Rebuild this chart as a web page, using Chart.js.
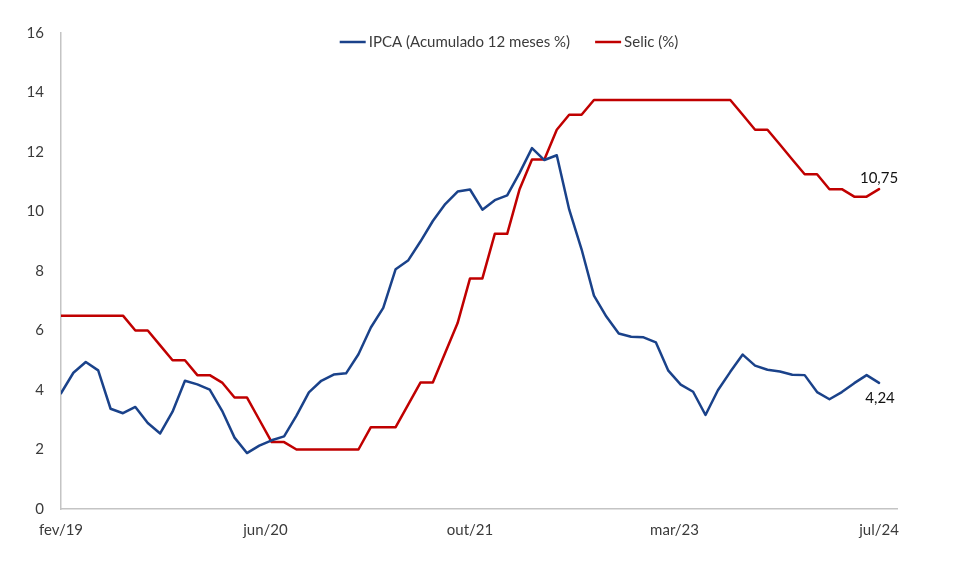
<!DOCTYPE html>
<html>
<head>
<meta charset="utf-8">
<title>IPCA x Selic</title>
<script src="https://cdn.jsdelivr.net/npm/chart.js@4/dist/chart.umd.min.js"></script>
<style>
  body { margin: 0; background: #ffffff; }
  #chart-box { width: 980px; height: 562px; }
</style>
</head>
<body>
<div id="chart-box"><canvas id="ipca-selic" width="980" height="562"></canvas></div>
<script>
// Monthly series, fev/19 .. ago/24
const ipca = [
  3.89, 4.58, 4.94, 4.66, 3.37, 3.22, 3.43, 2.89, 2.54, 3.27, 4.31,
  4.19, 4.01, 3.30, 2.40, 1.88, 2.13, 2.31, 2.44, 3.14, 3.92, 4.31, 4.52,
  4.56, 5.20, 6.10, 6.76, 8.06, 8.35, 8.99, 9.68, 10.25, 10.67, 10.74, 10.06,
  10.38, 10.54, 11.30, 12.13, 11.73, 11.89, 10.07, 8.73, 7.17, 6.47, 5.90, 5.79,
  5.77, 5.60, 4.65, 4.18, 3.94, 3.16, 3.99, 4.61, 5.19, 4.82, 4.68, 4.62,
  4.51, 4.50, 3.93, 3.69, 3.93, 4.23, 4.50, 4.24
];
const selic = [
  6.50, 6.50, 6.50, 6.50, 6.50, 6.50, 6.00, 6.00, 5.50, 5.00, 5.00,
  4.50, 4.50, 4.25, 3.75, 3.75, 3.00, 2.25, 2.25, 2.00, 2.00, 2.00, 2.00,
  2.00, 2.00, 2.75, 2.75, 2.75, 3.50, 4.25, 4.25, 5.25, 6.25, 7.75, 7.75,
  9.25, 9.25, 10.75, 11.75, 11.75, 12.75, 13.25, 13.25, 13.75, 13.75, 13.75, 13.75,
  13.75, 13.75, 13.75, 13.75, 13.75, 13.75, 13.75, 13.75, 13.25, 12.75, 12.75, 12.25,
  11.75, 11.25, 11.25, 10.75, 10.75, 10.50, 10.50, 10.75
];
const xTickLabels = ["fev/19", "jun/20", "out/21", "mar/23", "jul/24"];
const yTicks = [0, 2, 4, 6, 8, 10, 12, 14, 16];
const seriesNames = ["IPCA (Acumulado 12 meses %)", "Selic (%)"];
const lastLabels = ["4,24", "10,75"];

const BLUE = "#1a428a";
const RED = "#c00000";
const TEXT = "#3b3b3b";
const FONT = "Lato, 'Open Sans', sans-serif";

const lastIdx = ipca.length - 1;

function toPoints(arr) {
  return arr.map((v, i) => ({ x: i, y: v }));
}

// legend drawn inside the plot, like the Excel original
const insideLegend = {
  id: "insideLegend",
  afterDraw(chart) {
    const ctx = chart.ctx;
    const area = chart.chartArea;
    const lineLen = 26, gap = 3, itemGap = 25;
    ctx.save();
    ctx.font = "15px " + FONT;
    ctx.textBaseline = "middle";
    var total = 0;
    chart.data.datasets.forEach((ds, i) => {
      total += lineLen + gap + ctx.measureText(ds.label).width;
      if (i > 0) total += itemGap;
    });
    var x = (area.left + area.right) / 2 + 30 - total / 2;
    const y = area.top + 9;
    chart.data.datasets.forEach(ds => {
      ctx.strokeStyle = ds.borderColor;
      ctx.lineWidth = 2.5;
      ctx.beginPath();
      ctx.moveTo(x, y);
      ctx.lineTo(x + lineLen, y);
      ctx.stroke();
      x += lineLen + gap;
      ctx.fillStyle = TEXT;
      ctx.fillText(ds.label, x, y);
      x += ctx.measureText(ds.label).width + itemGap;
    });
    ctx.restore();
  }
};

// value label at the last point of each line
const endLabels = {
  id: "endLabels",
  afterDatasetsDraw(chart) {
    const ctx = chart.ctx;
    ctx.save();
    ctx.font = "15px " + FONT;
    ctx.fillStyle = "#111111";
    ctx.textAlign = "center";
    chart.data.datasets.forEach((ds, i) => {
      const pt = chart.getDatasetMeta(i).data[lastIdx];
      if (i === 0) {
        ctx.textBaseline = "top";
        ctx.fillText(lastLabels[i], pt.x + 1, pt.y + 8);
      } else {
        ctx.textBaseline = "bottom";
        ctx.fillText(lastLabels[i], pt.x, pt.y - 4);
      }
    });
    ctx.restore();
  }
};

const ctx = document.getElementById("ipca-selic").getContext("2d");
var c = new Chart(ctx, {
  type: "line",
  data: {
    datasets: [
      {
        label: seriesNames[0],
        data: toPoints(ipca),
        borderColor: BLUE,
        borderWidth: 2.5,
        pointRadius: 0,
        tension: 0,
        borderJoinStyle: "round",
        borderCapStyle: "round"
      },
      {
        label: seriesNames[1],
        data: toPoints(selic),
        borderColor: RED,
        borderWidth: 2.5,
        pointRadius: 0,
        tension: 0,
        borderJoinStyle: "round",
        borderCapStyle: "round"
      }
    ]
  },
  options: {
    responsive: false,
    animation: false,
    devicePixelRatio: 1,
    layout: { padding: { top: 33, right: 83, bottom: 0, left: 0 } },
    plugins: {
      legend: { display: false },
      tooltip: { enabled: false }
    },
    scales: {
      x: {
        type: "linear",
        min: 0,
        max: lastIdx + 1.45,
        afterBuildTicks(scale) {
          const step = lastIdx / (xTickLabels.length - 1);
          scale.ticks = xTickLabels.map((t, i) => ({ value: i * step }));
        },
        afterFit(scale) { scale.height = 53; },
        grid: { display: true, drawOnChartArea: false, drawTicks: false },
        border: { display: true, color: "#c4c4c4", width: 1.5 },
        ticks: {
          autoSkip: false,
          maxRotation: 0,
          padding: 12,
          color: TEXT,
          font: { family: FONT, size: 15 },
          callback: function (value, index) { return xTickLabels[index]; }
        }
      },
      y: {
        min: yTicks[0],
        max: yTicks[yTicks.length - 1],
        afterBuildTicks(scale) {
          scale.ticks = yTicks.map(v => ({ value: v }));
        },
        afterFit(scale) { scale.width = 61; },
        grid: { display: true, drawOnChartArea: false, drawTicks: false },
        border: { display: true, color: "#c4c4c4", width: 1.5 },
        ticks: {
          padding: 17,
          color: TEXT,
          font: { family: FONT, size: 15 }
        }
      }
    }
  },
  plugins: [insideLegend, endLabels]
});
</script>
</body>
</html>
